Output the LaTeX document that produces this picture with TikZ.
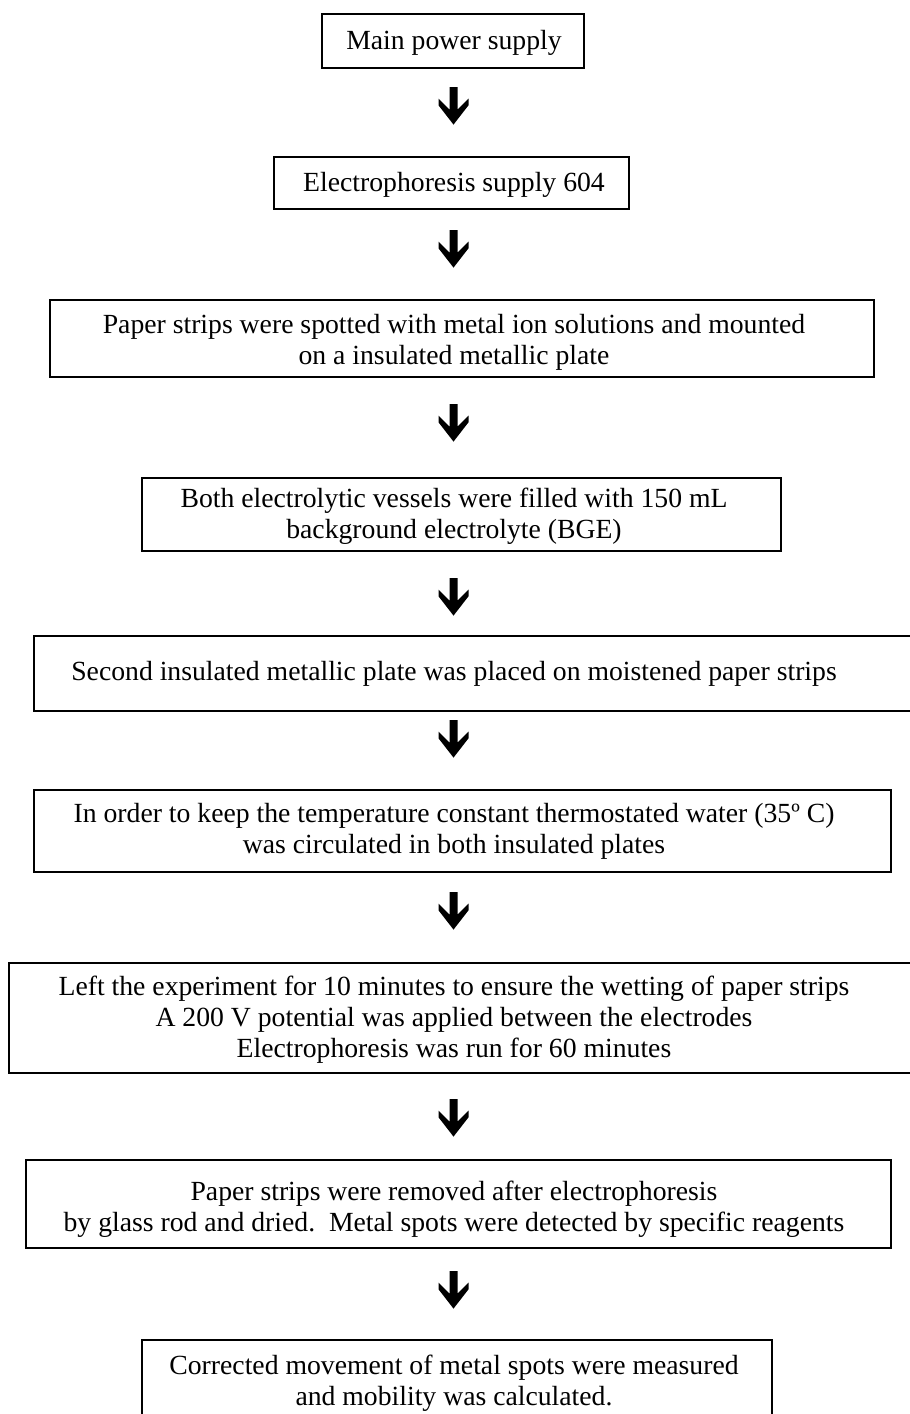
\documentclass[tikz,border=0pt]{standalone}
\usepackage{fontspec}
\setmainfont{Liberation Serif}
\begin{document}
\begin{tikzpicture}[x=1pt,y=-1pt,
  boxline/.style={draw=black, line width=1.6pt},
  txt/.style={font=\fontsize{27.7}{31}\selectfont, align=center, inner sep=0pt, yshift=-1.5pt},
  blockarrow/.pic={\fill[black] (-4,0) -- (-4,22.6) -- (-15,11.6) -- (-15,18.3) -- (0,37.6) -- (15,18.3) -- (15,11.6) -- (4,22.6) -- (4,0) -- cycle;}]
\useasboundingbox (0,0) rectangle (910,1414);
\clip (0,0) rectangle (910,1414);
% boxes
\draw[boxline] (322,14) rectangle (584,68);
\draw[boxline] (274,157) rectangle (629,209);
\draw[boxline] (50,300) rectangle (874,377);
\draw[boxline] (142,478) rectangle (781,551);
\draw[boxline] (34,636) rectangle (925,711);
\draw[boxline] (34,790) rectangle (891,872);
\draw[boxline] (9,963) rectangle (925,1073);
\draw[boxline] (26,1160) rectangle (891,1248);
\draw[boxline] (142,1340) rectangle (772,1430);
% texts
\node[txt] (t1) at (454,41) {Main power supply};
\node[txt] (t2) at (454,183) {Electrophoresis supply 604};
\node[txt] (t3) at (454,340.5) {Paper strips were spotted with metal ion solutions and mounted\\on a insulated metallic plate};
\node[txt] (t4) at (454,514.5) {Both electrolytic vessels were filled with 150 mL\\background electrolyte (BGE)};
\node[txt] (t5) at (454,672) {Second insulated metallic plate was placed on moistened paper strips};
\node[txt] (t6) at (454,829.5) {In order to keep the temperature constant thermostated water (35º C)\\was circulated in both insulated plates};
\node[txt] (t7) at (454,1018.5) {Left the experiment for 10 minutes to ensure the wetting of paper strips\\A 200 V potential was applied between the electrodes\\Electrophoresis was run for 60 minutes};
\node[txt] (t8) at (454,1208) {Paper strips were removed after electrophoresis\\by glass rod and dried.\ \ Metal spots were detected by specific reagents};
\node[txt] (t9) at (454,1381.5) {Corrected movement of metal spots were measured\\and mobility was calculated.};
% arrows
\pic at (453.5,87) {blockarrow};
\pic at (453.5,230) {blockarrow};
\pic at (453.5,404) {blockarrow};
\pic at (453.5,578) {blockarrow};
\pic at (453.5,720) {blockarrow};
\pic at (453.5,892) {blockarrow};
\pic at (453.5,1099) {blockarrow};
\pic at (453.5,1271) {blockarrow};
\end{tikzpicture}
\end{document}
